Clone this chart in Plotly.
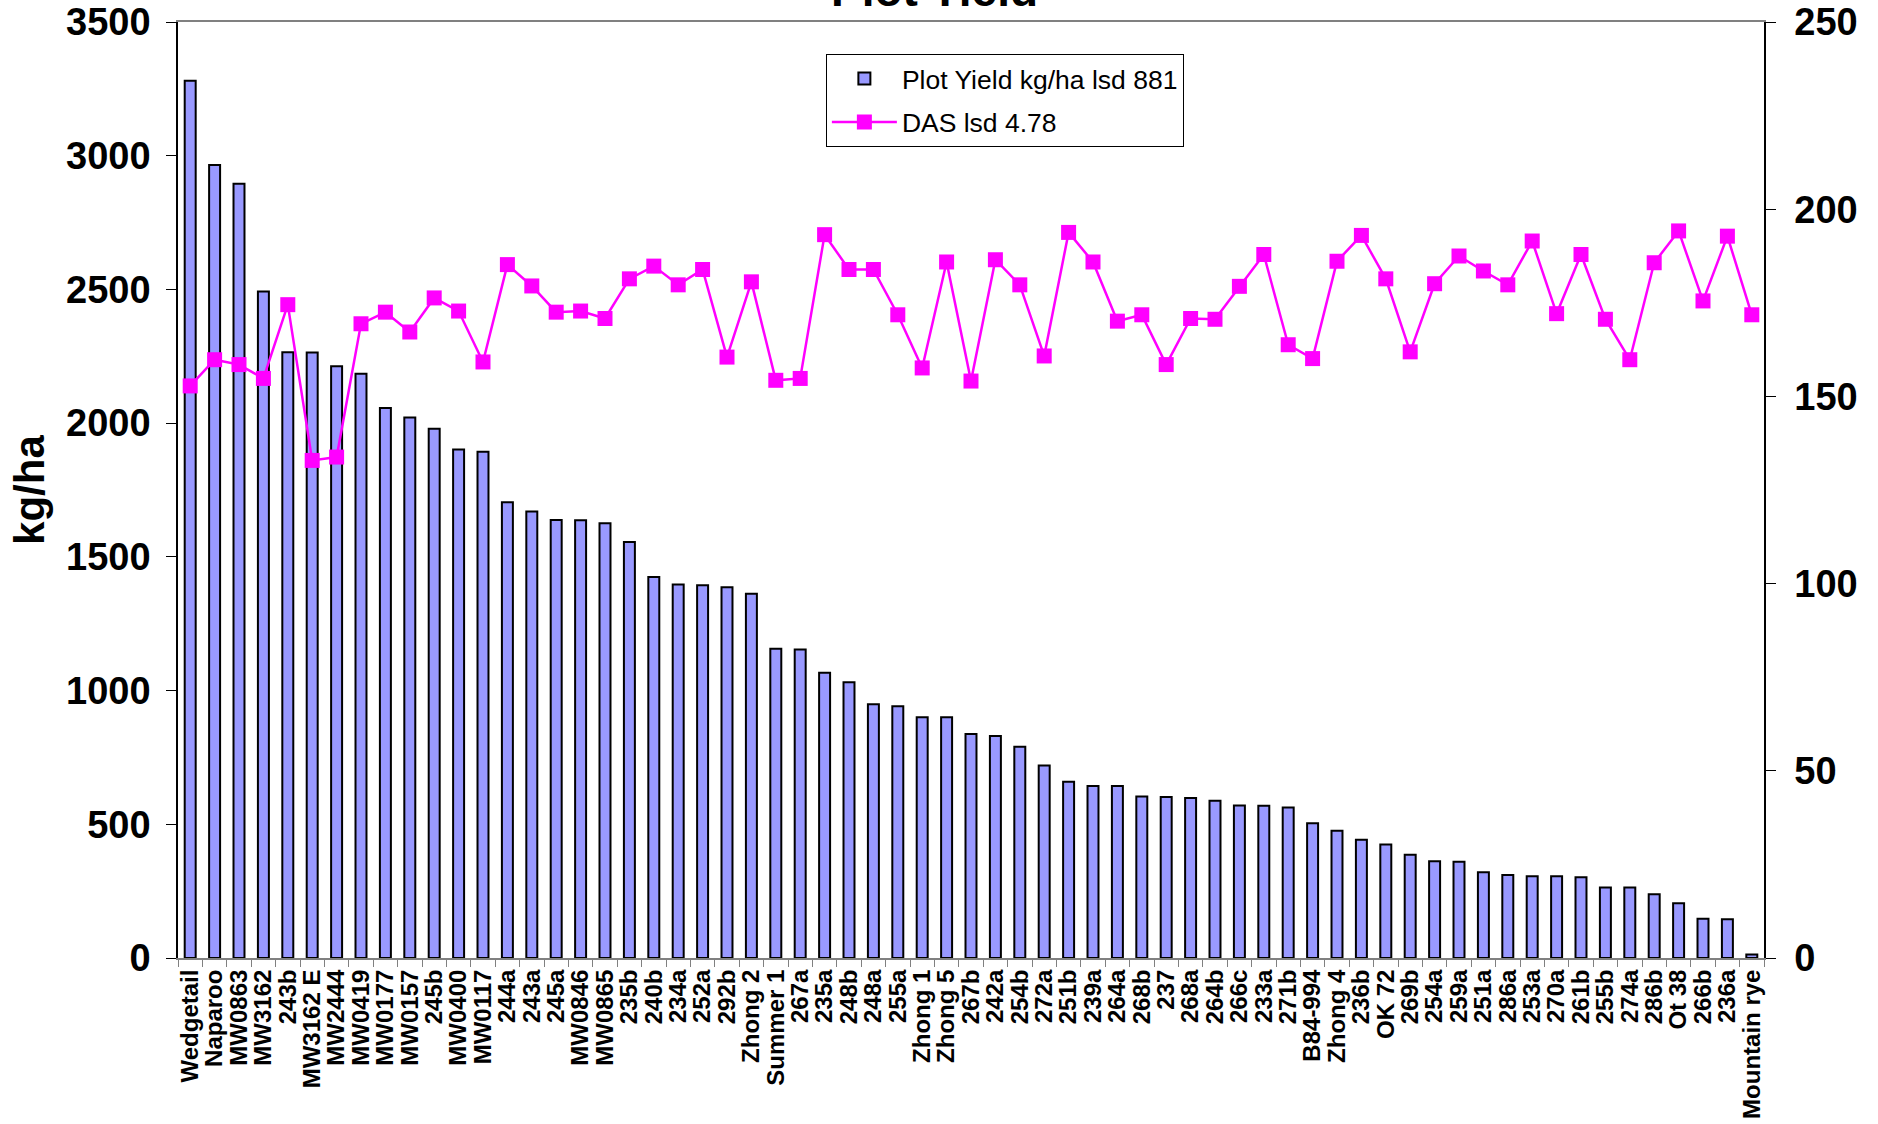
import plotly.graph_objects as go

categories = ["Wedgetail", "Naparoo", "MW0863", "MW3162", "243b", "MW3162 E", "MW2444", "MW0419",
              "MW0177", "MW0157", "245b", "MW0400", "MW0117", "244a", "243a", "245a", "MW0846",
              "MW0865", "235b", "240b", "234a", "252a", "292b", "Zhong 2", "Summer 1", "267a",
              "235a", "248b", "248a", "255a", "Zhong 1", "Zhong 5", "267b", "242a", "254b", "272a",
              "251b", "239a", "264a", "268b", "237", "268a", "264b", "266c", "233a", "271b",
              "B84-994", "Zhong 4", "236b", "OK 72", "269b", "254a", "259a", "251a", "286a",
              "253a", "270a", "261b", "255b", "274a", "286b", "Ot 38", "266b", "236a", "Mountain rye"]

plot_yield = [3280, 2965, 2895, 2492, 2265, 2264, 2213, 2185, 2057, 2021, 1979, 1901, 1893,
              1704, 1670, 1638, 1637, 1626, 1556, 1425, 1397, 1394, 1386, 1362, 1156, 1154,
              1067, 1031, 949, 941, 900, 900, 838, 830, 790, 720, 659, 643, 643, 604, 602,
              598, 588, 570, 569, 563, 504, 476, 442, 424, 386, 362, 360, 321, 310, 306, 306,
              302, 264, 264, 238, 205, 147, 145, 13]

das = [152.8, 159.8, 158.5, 154.8, 174.5, 132.9, 133.8, 169.4, 172.5, 167.2, 176.3, 172.8, 159.2,
       185.2, 179.5, 172.5, 172.8, 170.8, 181.4, 184.8, 179.8, 183.9, 160.5, 180.6, 154.3, 154.8,
       193.2, 183.9, 183.9, 171.8, 157.6, 185.9, 154.1, 186.5, 179.8, 160.8, 193.8, 185.9, 170.1,
       171.8, 158.5, 170.8, 170.6, 179.4, 187.9, 163.8, 160.1, 186.1, 193.0, 181.4, 161.9, 180.1,
       187.5, 183.5, 179.8, 191.5, 172.1, 187.9, 170.6, 159.8, 185.7, 194.2, 175.5, 192.8, 171.8]

FONT = "Liberation Sans, Arial, sans-serif"

fig = go.Figure()
fig.add_trace(go.Bar(
    x=categories, y=plot_yield, name="Plot Yield kg/ha lsd 881",
    marker=dict(color="#9999FF", line=dict(color="black", width=2)),
    legendgroup="a", yaxis="y",
))
fig.add_trace(go.Scatter(
    x=categories, y=das, name="DAS lsd 4.78", mode="lines+markers",
    line=dict(color="#FF00FF", width=2.5),
    marker=dict(symbol="square", size=15, color="#FF00FF"),
    legendgroup="b", yaxis="y2",
))

fig.update_layout(
    width=1878, height=1124,
    margin=dict(l=178, r=114, t=22, b=166, autoexpand=False),
    paper_bgcolor="white", plot_bgcolor="white",
    bargap=0.55,
    showlegend=True,
    legend=dict(
        x=0.4085, y=0.966, xanchor="left", yanchor="top",
        bgcolor="white", bordercolor="black", borderwidth=1,
        font=dict(family=FONT, size=26.5, color="black"),
        traceorder="grouped", tracegroupgap=6, itemwidth=65,
    ),
    xaxis=dict(
        type="category", tickangle=-90,
        range=[-0.5, len(categories) - 0.5],
        tickmode="linear", tick0=0, dtick=1,
        tickfont=dict(family=FONT, size=24, color="black", weight="bold"),
        showline=True, linecolor="#808080", linewidth=2, mirror=True,
        ticks="outside", ticklen=7, tickcolor="#808080", tickson="boundaries",
        showgrid=False, automargin=False,
    ),
    yaxis=dict(
        range=[0, 3500], dtick=500,
        tickfont=dict(family=FONT, size=38, color="black", weight="bold"),
        showline=True, linecolor="black", linewidth=1.5,
        ticks="outside", ticklen=10, tickcolor="black",
        ticklabelstandoff=8,
        showgrid=False, zeroline=False, automargin=False,
    ),
    yaxis2=dict(
        range=[0, 250], dtick=50, overlaying="y", side="right",
        tickfont=dict(family=FONT, size=38, color="black", weight="bold"),
        showline=True, linecolor="black", linewidth=1.5,
        ticks="outside", ticklen=10, tickcolor="black",
        ticklabelstandoff=11,
        showgrid=False, zeroline=False, automargin=False,
    ),
    annotations=[
        dict(text="<b>Plot Yield</b>", xref="paper", yref="paper", x=0.477, y=1.034,
             xanchor="center", yanchor="middle", showarrow=False,
             font=dict(family=FONT, size=46, color="black")),
        dict(text="<b>kg/ha</b>", xref="paper", yref="paper", x=-0.094, y=0.5,
             xanchor="center", yanchor="middle", textangle=-90, showarrow=False,
             font=dict(family=FONT, size=42, color="black")),
    ],
)

fig.write_html("out.html", config={"displayModeBar": False},
               post_script="document.body.style.margin='0px';")
